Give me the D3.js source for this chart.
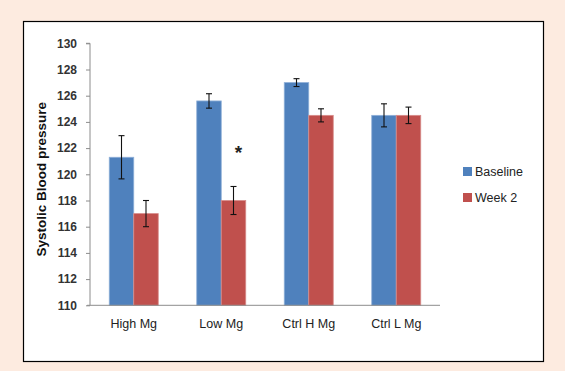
<!DOCTYPE html>
<html lang="en">
<head>
  <meta charset="utf-8">
  <title>Systolic Blood pressure</title>
  <style>
    body { margin:0; background:#fdebe0; }
    svg  { display:block; }
    text { font-family: "Liberation Sans", Arial, sans-serif; }
  </style>
</head>
<body>
<script src="https://d3js.org/d3.v7.min.js"></script>
<script>

// data
const categories = ["High Mg", "Low Mg", "Ctrl H Mg", "Ctrl L Mg"];
const series = ["Baseline", "Week 2"];
const baseline = [121.3, 125.6, 127.0, 124.5];
const baselineErr = [1.65, 0.55, 0.3, 0.88];
const week2 = [117.0, 118.0, 124.5, 124.5];
const week2Err = [1.0, 1.07, 0.5, 0.63];
const yTicks = [110, 112, 114, 116, 118, 120, 122, 124, 126, 128, 130];
const colors = ["#4f81bd", "#c0504d"];

const width = 565, height = 371;

const svg = d3.select("body").append("svg")
  .attr("width", width)
  .attr("height", height);

// white panel with black frame
svg.append("rect")
  .attr("x", 23.5).attr("y", 21.5)
  .attr("width", 520).attr("height", 340)
  .attr("fill", "#fff")
  .attr("stroke", "#000")
  .attr("stroke-width", 1.2);

const plot = { left: 90, right: 440, top: 43.3, bottom: 305.3 };

const y = d3.scaleLinear().domain([110, 130]).range([plot.bottom, plot.top]);

const x0 = d3.scaleBand()
  .domain(categories)
  .range([plot.left, plot.right])
  .paddingInner(0.44)
  .paddingOuter(0.22);

const x1 = d3.scaleBand()
  .domain(series)
  .range([0, x0.bandwidth()]);

const rows = categories.map((c, i) => ({
  cat: c,
  vals: [
    { s: series[0], v: baseline[i], e: baselineErr[i] },
    { s: series[1], v: week2[i], e: week2Err[i] }
  ]
}));

// y axis
const yAxis = svg.append("g")
  .attr("transform", `translate(${plot.left},0)`)
  .call(d3.axisLeft(y).tickValues(yTicks).tickSize(4).tickPadding(9));
yAxis.select(".domain").attr("stroke", "#8c8c8c").attr("d", `M-4,${plot.top}H0V${plot.bottom}`);
yAxis.selectAll(".tick line").attr("stroke", "#8c8c8c");
yAxis.selectAll("text")
  .attr("fill", "#333")
  .style("font-size", "12px")
  .style("font-weight", "bold");

// bars
const groups = svg.append("g")
  .selectAll("g")
  .data(rows)
  .join("g")
    .attr("transform", d => `translate(${x0(d.cat)},0)`);

groups.selectAll("rect")
  .data(d => d.vals)
  .join("rect")
    .attr("x", d => x1(d.s))
    .attr("y", d => y(d.v))
    .attr("width", x1.bandwidth())
    .attr("height", d => y(110) - y(d.v))
    .attr("fill", (d, i) => colors[i])
    .attr("stroke", (d, i) => i ? "#d88c8a" : "#8eafd8")
    .attr("stroke-width", 0.8);

// error bars
const err = groups.selectAll("g.err")
  .data(d => d.vals)
  .join("g")
    .attr("class", "err")
    .attr("stroke", "#111")
    .attr("stroke-width", 1.1);

err.append("line")
  .attr("x1", d => x1(d.s) + x1.bandwidth() / 2)
  .attr("x2", d => x1(d.s) + x1.bandwidth() / 2)
  .attr("y1", d => y(d.v + d.e))
  .attr("y2", d => y(d.v - d.e));
err.append("line")
  .attr("x1", d => x1(d.s) + x1.bandwidth() / 2 - 3)
  .attr("x2", d => x1(d.s) + x1.bandwidth() / 2 + 3)
  .attr("y1", d => y(d.v + d.e))
  .attr("y2", d => y(d.v + d.e));
err.append("line")
  .attr("x1", d => x1(d.s) + x1.bandwidth() / 2 - 3)
  .attr("x2", d => x1(d.s) + x1.bandwidth() / 2 + 3)
  .attr("y1", d => y(d.v - d.e))
  .attr("y2", d => y(d.v - d.e));

// x axis
svg.append("line")
  .attr("x1", plot.left - 3).attr("x2", plot.right)
  .attr("y1", plot.bottom).attr("y2", plot.bottom)
  .attr("stroke", "#8c8c8c");

svg.append("g")
  .selectAll("text")
  .data(categories)
  .join("text")
    .attr("x", d => x0(d) + x0.bandwidth() / 2)
    .attr("y", 327.5)
    .attr("text-anchor", "middle")
    .attr("fill", "#222")
    .style("font-size", "12.5px")
    .text(d => d);

// significance mark on Low Mg week 2
svg.append("text")
  .attr("x", x0("Low Mg") + x1("Week 2") + x1.bandwidth() / 2 + 5)
  .attr("y", y(121.85) + 9)
  .attr("text-anchor", "middle")
  .attr("fill", "#222")
  .style("font-size", "19px")
  .style("font-weight", "bold")
  .text("*");

// y title
svg.append("text")
  .attr("transform", `translate(46,${(plot.top + plot.bottom) / 2 + 5}) rotate(-90)`)
  .attr("text-anchor", "middle")
  .attr("fill", "#111")
  .style("font-size", "13.5px")
  .style("font-weight", "bold")
  .text("Systolic Blood pressure");

// legend
const legend = svg.append("g")
  .attr("transform", "translate(463,167)");

legend.selectAll("rect")
  .data(series)
  .join("rect")
    .attr("x", 0)
    .attr("y", (d, i) => i * 26)
    .attr("width", 9)
    .attr("height", 9)
    .attr("fill", (d, i) => colors[i]);

legend.selectAll("text")
  .data(series)
  .join("text")
    .attr("x", 12)
    .attr("y", (d, i) => i * 26 + 9)
    .attr("fill", "#222")
    .style("font-size", "12.5px")
    .text(d => d);
</script>
</body>
</html>
